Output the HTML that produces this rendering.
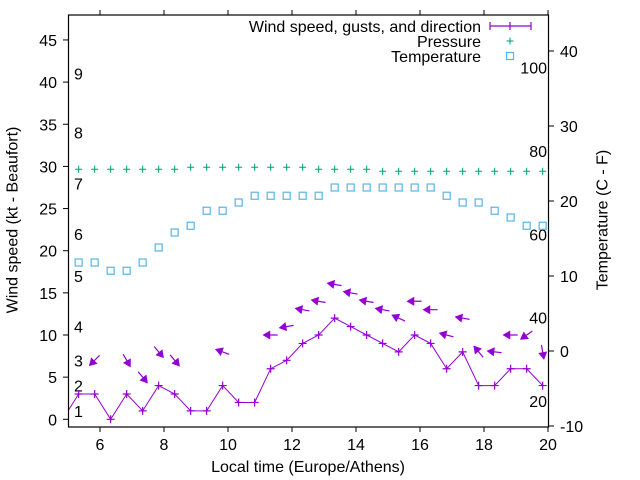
<!DOCTYPE html>
<html><head><meta charset="utf-8"><style>
html,body{margin:0;padding:0;background:#fff}
svg{display:block;font-family:"Liberation Sans",sans-serif}
</style></head><body>
<svg id="chart" width="640" height="480" viewBox="0 0 640 480" xmlns="http://www.w3.org/2000/svg">
<defs><clipPath id="plotclip"><rect x="68.5" y="15" width="480" height="412"/></clipPath></defs>
<rect x="0" y="0" width="640" height="480" fill="#fff"/>
<g id="axes"></g>
<g id="marks" clip-path="url(#plotclip)"></g>
<rect x="68.5" y="15" width="480" height="412" fill="none" stroke="#000" stroke-width="1.2"/>
<text x="13" y="220" transform="rotate(-90 13 220)" text-anchor="middle" dominant-baseline="central" font-size="16">Wind speed (kt - Beaufort)</text>
<text x="603" y="220" transform="rotate(-90 603 220)" text-anchor="middle" dominant-baseline="central" font-size="16">Temperature (C - F)</text>
<text x="308" y="472" text-anchor="middle" font-size="16">Local time (Europe/Athens)</text>
<g id="legend"></g>
</svg>
<script>
const hours = [5.333,5.833,6.333,6.833,7.333,7.833,8.333,8.833,9.333,9.833,10.333,10.833,11.333,11.833,12.333,12.833,13.333,13.833,14.333,14.833,15.333,15.833,16.333,16.833,17.333,17.833,18.333,18.833,19.333,19.833];
const windSpeed = [3,3,0,3,1,4,3,1,1,4,2,2,6,7,9,10,12,11,10,9,8,10,9,6,8,4,4,6,6,4];
const gusts = [null,7,null,7,5,8,7,null,null,8,null,null,10,11,13,14,16,15,14,13,12,14,13,10,12,8,8,10,10,8];
const windFrom = [null,45,null,330,320,320,320,null,null,110,null,null,90,80,100,100,100,100,100,100,115,90,90,105,100,140,97,90,55,350];
const pressure = [29.66,29.66,29.66,29.66,29.66,29.66,29.66,29.9,29.9,29.9,29.9,29.9,29.9,29.9,29.9,29.66,29.66,29.66,29.66,29.42,29.42,29.42,29.42,29.42,29.42,29.42,29.42,29.42,29.42,29.42];
const temperature = [11.8,11.8,10.7,10.7,11.8,13.8,15.8,16.7,18.7,18.7,19.8,20.7,20.7,20.7,20.7,20.7,21.8,21.8,21.8,21.8,21.8,21.8,21.8,20.7,19.8,19.8,18.7,17.8,16.7,16.7];
const prevWind = {h:4.833, v:0};
const xTicks = [6,8,10,12,14,16,18,20];
const yTicks = [0,5,10,15,20,25,30,35,40,45];
const y2Ticks = [-10,0,10,20,30,40];
const fTicks = [20,40,60,80,100];
const beaufortLabels = ["1","2","3","4","5","6","7","8","9"];
const beaufortKt = [1,4,7,11,17,22,28,34,41];

const NS="http://www.w3.org/2000/svg";
const X = h => 68 + (h-5)*32;
const Y = v => 419.3 - v*8.43;
const Y2 = c => 351 - c*7.5;
function mk(tag, attrs, parent, text){
  const e=document.createElementNS(NS,tag);
  for(const k in attrs) e.setAttribute(k,attrs[k]);
  if(text!==undefined) e.textContent=text;
  parent.appendChild(e); return e;
}
const axes=document.getElementById('axes');
const marks=document.getElementById('marks');
const legend=document.getElementById('legend');
const FS='16';

xTicks.forEach(t=>{
  const x=X(t);
  let e=mk('line',{x1:x,y1:427,x2:x,y2:432,stroke:'#000'},axes);
  
  
  e=mk('line',{x1:x,y1:15,x2:x,y2:10,stroke:'#000'},axes);
  
  
  e=mk('text',{x:x,y:450,'text-anchor':'middle','font-size':FS},axes,String(t));
  
  
});
yTicks.forEach(t=>{
  const y=Y(t);
  let e=mk('line',{x1:63,y1:y,x2:68.5,y2:y,stroke:'#000'},axes);
  
  
  e=mk('text',{x:57,y:y+6,'text-anchor':'end','font-size':FS},axes,String(t));
  
  
});
y2Ticks.forEach(t=>{
  const y=Y2(t);
  let e=mk('line',{x1:548.5,y1:y,x2:554,y2:y,stroke:'#000'},axes);
  
  
  e=mk('text',{x:560,y:y+6,'text-anchor':'start','font-size':FS},axes,String(t));
  
  
});
fTicks.forEach(f=>{
  const y=Y2((f-32)*5/9);
  const e=mk('text',{x:547,y:y+6,'text-anchor':'end','font-size':FS},axes,String(f));
  
  
});
beaufortKt.forEach((k,i)=>{
  const e=mk('text',{x:74,y:Y(k)+6,'font-size':FS},axes,beaufortLabels[i]);
  
  
});

pressure.forEach((p,i)=>{
  const x=X(hours[i]), y=Y(p);
  const e=mk('path',{d:`M${x-3.5},${y}H${x+3.5}M${x},${y-3.5}V${y+3.5}`,stroke:'#009e73','stroke-width':'1'},marks);
  
  
});
temperature.forEach((t,i)=>{
  const x=X(hours[i]), y=Y2(t);
  const e=mk('rect',{x:x-3.5,y:y-3.5,width:7,height:7,fill:'none',stroke:'#56b4e9','stroke-width':'1.2'},marks);
  
  
});
let d=`M${X(prevWind.h)},${Y(prevWind.v)}`;
windSpeed.forEach((v,i)=>{ d+=`L${X(hours[i])},${Y(v)}`; });
let wl=mk('path',{d:d,fill:'none',stroke:'#9400d3','stroke-width':'1'},marks);


windSpeed.forEach((v,i)=>{
  const x=X(hours[i]), y=Y(v);
  const e=mk('path',{d:`M${x-4},${y}H${x+4}M${x},${y-4}V${y+4}`,stroke:'#9400d3','stroke-width':'1.2'},marks);
  
  
});
gusts.forEach((g,i)=>{
  if(g===null) return;
  const cx=X(hours[i]), cy=Y(g);
  const go=(windFrom[i]+180)*Math.PI/180;
  const ux=Math.sin(go), uy=-Math.cos(go);
  const L=14;
  const tx=cx-ux*L/2, ty=cy-uy*L/2, hx=cx+ux*L/2, hy=cy+uy*L/2;
  const px=-uy, py=ux;
  const bx=hx-ux*6, by=hy-uy*6;
  const e=mk('path',{d:`M${tx},${ty}L${bx},${by}M${hx},${hy}L${bx+px*3.5},${by+py*3.5}L${bx-px*3.5},${by-py*3.5}Z`,stroke:'#9400d3','stroke-width':'1.2',fill:'#9400d3'},marks);
  
  
});

const legItems=["Wind speed, gusts, and direction","Pressure","Temperature"];
const legY=[26,41,56];
legItems.forEach((t,i)=>{
  const e=mk('text',{x:481,y:legY[i]+6,'text-anchor':'end','font-size':FS},legend,t);
  
  
});
let le=mk('path',{d:`M490,26H531M490,22V30M531,22V30M510,22V30`,stroke:'#9400d3','stroke-width':'1.2',fill:'none'},legend);


le=mk('path',{d:`M506.5,41H513.5M510,37.5V44.5`,stroke:'#009e73','stroke-width':'1'},legend);


le=mk('rect',{x:506.5,y:52.5,width:7,height:7,fill:'none',stroke:'#56b4e9','stroke-width':'1.2'},legend);


</script>
</body></html>
